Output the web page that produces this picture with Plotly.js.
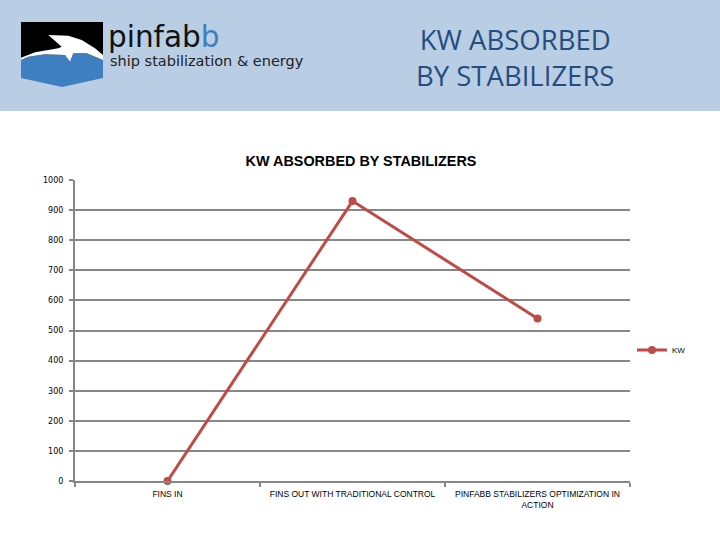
<!DOCTYPE html>
<html>
<head>
<meta charset="utf-8">
<script src="https://cdn.plot.ly/plotly-3.0.1.min.js"></script>
<style>html,body{margin:0;padding:0;background:#fff;}#chart{width:720px;height:540px;}</style>
</head>
<body>
<div id="chart"></div>
<script>
// ---- data ----
const categories = ["FINS IN", "FINS OUT WITH TRADITIONAL CONTROL", "PINFABB STABILIZERS OPTIMIZATION IN<br>ACTION"];
const kwValues = [0, 930, 540];
const seriesName = "KW";
const yTickValues = [0, 100, 200, 300, 400, 500, 600, 700, 800, 900, 1000];

// ---- geometry helpers (pixel -> paper) ----
const L = 75, R = 90, T = 180, B = 59, W = 720, H = 540;
const PW = W - L - R, PH = H - T - B;
const px = x => (x - L) / PW;
const py = y => 1 - (y - T) / PH;
function path(pts) {
  return 'M ' + pts.map(p => px(p[0]) + ',' + py(p[1])).join(' L ') + ' Z';
}

const lineColor = '#be4b48';
const gridColor = '#878787';

const trace = {
  x: categories,
  y: kwValues,
  type: 'scatter',
  mode: 'lines+markers',
  name: seriesName,
  line: {color: lineColor, width: 3},
  marker: {color: lineColor, size: 8, symbol: 'circle'},
  cliponaxis: false
};

const shapes = [
  // header band
  {type: 'rect', xref: 'paper', yref: 'paper', x0: px(0), x1: px(720), y0: py(111), y1: py(0),
   fillcolor: '#b9cde4', line: {width: 0}, layer: 'below'},
  // logo black block
  {type: 'rect', xref: 'paper', yref: 'paper', x0: px(21), x1: px(103), y0: py(62), y1: py(22),
   fillcolor: '#000000', line: {width: 0}},
  // logo blue wave/shield
  {type: 'path', xref: 'paper', yref: 'paper',
   path: path([[21,60],[28.3,56.7],[45,54.3],[65,55],[70,61.7],[73.3,53.3],[86.7,53.3],[103,60],[103,78],[62,87],[21,78]]),
   fillcolor: '#3d7fc1', line: {width: 0}},
  // logo white lightning
  {type: 'path', xref: 'paper', yref: 'paper',
   path: path([[48.3,35],[68.3,35.7],[81.7,40],[95,48.3],[103,55],[103,60],[86.7,53.3],[73.3,53.3],[70,61.7],[65,55],[45,54.3],[28.3,56.7],[21,60],[21,57.7],[35,52.3],[58.3,48.3],[61.7,46.7]]),
   fillcolor: '#ffffff', line: {width: 0}}
];

const annotations = [
  {xref: 'paper', yref: 'paper', x: px(106), y: py(37), xanchor: 'left', yanchor: 'middle',
   text: '<span style="color:#111">pinfab</span><span style="color:#3d7fc1">b</span>',
   showarrow: false, font: {family: 'DejaVu Sans', size: 29.5, color: '#111'}},
  {xref: 'paper', yref: 'paper', x: px(108), y: py(61), xanchor: 'left', yanchor: 'middle',
   text: 'ship stabilization &amp; energy', showarrow: false,
   font: {family: 'DejaVu Sans', size: 14.5, color: '#222'}},
  {xref: 'paper', yref: 'paper', x: px(515), y: py(57), xanchor: 'center', yanchor: 'middle',
   text: 'KW ABSORBED<br>BY STABILIZERS', showarrow: false, align: 'center',
   font: {family: 'Open Sans', size: 27.5, color: '#264d7e'}}
];

const layout = {
  width: W, height: H,
  margin: {l: L, r: R, t: T, b: B, pad: 0},
  paper_bgcolor: '#ffffff',
  plot_bgcolor: '#ffffff',
  title: {text: '<b>KW ABSORBED BY STABILIZERS</b>', x: 361/W, xanchor: 'center',
          y: 1 - 161/H, yanchor: 'middle',
          font: {family: 'Liberation Sans', size: 14.4, color: '#000'}},
  showlegend: true,
  legend: {x: px(632), y: py(350), xanchor: 'left', yanchor: 'middle',
           font: {family: 'Liberation Sans', size: 8, color: '#000'},
           itemwidth: 30, bgcolor: 'rgba(0,0,0,0)'},
  xaxis: {
    type: 'category', range: [-0.5, 2.5],
    showline: true, linecolor: gridColor, linewidth: 2,
    ticks: 'outside', tickson: 'boundaries', ticklen: 4, tickcolor: gridColor, tickwidth: 2,
    showgrid: false, zeroline: false, ticklabelstandoff: 4,
    tickfont: {family: 'Liberation Sans Narrow, Liberation Sans', size: 8.5, color: '#000'}
  },
  yaxis: {
    range: [0, 1000], tickvals: yTickValues, ticktext: yTickValues.map(String),
    showline: true, linecolor: gridColor, linewidth: 2,
    ticks: 'outside', ticklen: 4, tickcolor: gridColor, tickwidth: 2,
    showgrid: true, gridcolor: gridColor, gridwidth: 2, zeroline: false,
    ticklabelstandoff: 4,
    tickfont: {family: 'DejaVu Sans', size: 8, color: '#000'}
  },
  shapes: shapes,
  annotations: annotations
};

Plotly.newPlot('chart', [trace], layout, {displayModeBar: false, staticPlot: true});
</script>
</body>
</html>
